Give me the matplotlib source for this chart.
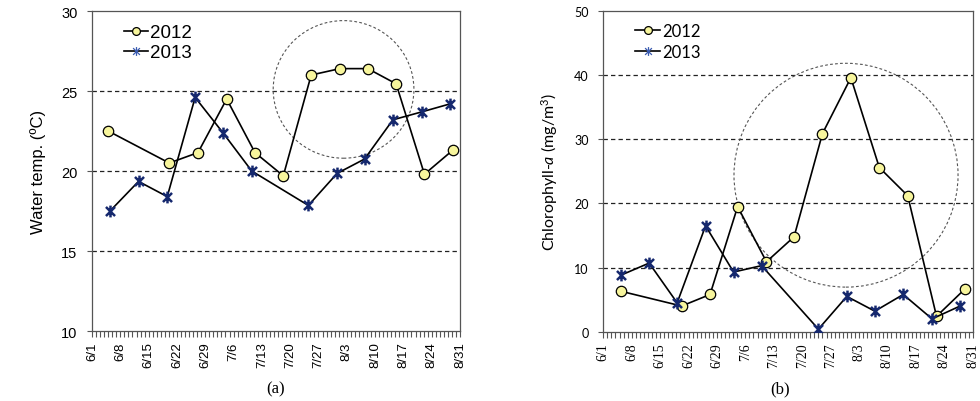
import numpy as np
import matplotlib
matplotlib.use('Agg')
import matplotlib.pyplot as plt
from matplotlib.patches import Ellipse
from matplotlib.path import Path
from matplotlib.ticker import MultipleLocator

# days counted from 6/1 (6/1 = 0, 8/31 = 91)
tick_labels = ['6/1', '6/8', '6/15', '6/22', '6/29', '7/6', '7/13', '7/20',
               '7/27', '8/3', '8/10', '8/17', '8/24', '8/31']

# (a) water temperature
days_a_2012 = [4.0, 19.1, 26.2, 33.3, 40.3, 47.3, 54.2, 61.3, 68.2, 75.2, 82.2, 89.2]
temp_2012 = [22.5, 20.5, 21.15, 24.5, 21.15, 19.7, 26.0, 26.4, 26.4, 25.45, 19.8, 21.3]
days_a_2013 = [4.45, 11.5, 18.6, 25.5, 32.5, 39.5, 53.5, 60.6, 67.4, 74.4, 81.6, 88.6]
temp_2013 = [17.5, 19.35, 18.4, 24.6, 22.35, 20.0, 17.85, 19.85, 20.75, 23.2, 23.7, 24.2]

# (b) chlorophyll-a
days_b_2012 = [4.4, 19.3, 26.3, 33.1, 40.2, 47.0, 54.0, 61.0, 68.0, 75.0, 82.1, 89.0]
chl_2012 = [6.3, 4.0, 5.8, 19.5, 10.9, 14.8, 30.9, 39.6, 25.6, 21.2, 2.4, 6.6]
days_b_2013 = [4.3, 11.3, 18.2, 25.2, 32.1, 39.0, 53.0, 60.0, 66.9, 73.9, 81.0, 87.9]
chl_2013 = [8.8, 10.7, 4.5, 16.5, 9.3, 10.3, 0.4, 5.5, 3.2, 5.8, 2.0, 4.0]

# excel-like star marker: X plus a vertical bar
star = Path([(-1, -1), (1, 1), (-1, 1), (1, -1), (0, -1.3), (0, 1.3)],
            [Path.MOVETO, Path.LINETO, Path.MOVETO, Path.LINETO, Path.MOVETO, Path.LINETO])

yellow = '#F7F59C'
navy = '#15286E'

plt.rcParams['mathtext.fontset'] = 'custom'
plt.rcParams['mathtext.rm'] = 'Lato'
plt.rcParams['mathtext.it'] = 'Lato:italic'

fig = plt.figure(figsize=(9.8, 4.02), dpi=100)
ax1 = fig.add_axes([0.0939, 0.1741, 0.3755, 0.796])
ax2 = fig.add_axes([0.6156, 0.1724, 0.3769, 0.7977])


def style_axis(ax, ymin, ymax, ystep, grid_vals, xfont, yfont, xsize, ysize):
    ax.set_xlim(0, 91)
    ax.set_ylim(ymin, ymax)
    ax.xaxis.set_minor_locator(MultipleLocator(1))
    ax.set_xticks(np.arange(0, 92, 7))
    ax.set_xticklabels(tick_labels, rotation=90, fontsize=xsize, family=xfont)
    ax.set_yticks(np.arange(ymin, ymax + 0.1, ystep))
    for lab in ax.get_yticklabels():
        lab.set_family(yfont)
        lab.set_fontsize(ysize)
    ax.tick_params(axis='x', which='both', direction='out', length=4.5, width=0.8,
                   color='#555555', pad=3)
    ax.tick_params(axis='y', direction='out', length=3.5, width=0.8,
                   color='#555555', pad=7)
    for s in ax.spines.values():
        s.set_color('#555555')
        s.set_linewidth(0.9)
    for g in grid_vals:
        ax.axhline(g, color='#222222', linestyle=(0, (3.5, 2.5)), linewidth=0.9, zorder=1)


def soften_legend(leg):
    h = leg.legend_handles[1]
    h.set_markeredgecolor('#3A5BB0')
    h.set_markeredgewidth(0.9)


# ---- panel (a)
style_axis(ax1, 10, 30, 5, [15, 20, 25], 'Liberation Sans', 'Liberation Sans', 9.5, 10.5)
ax1.plot(days_a_2012, temp_2012, color='black', lw=1.2, marker='o', ms=7.5,
         mfc=yellow, mec='black', mew=0.9, label='2012', zorder=3)
ax1.plot(days_a_2013, temp_2013, color='black', lw=1.2, marker=star, ms=8.5,
         mfc='none', mec=navy, mew=1.8, label='2013', zorder=4)
ax1.add_patch(Ellipse((62.2, 25.1), 34.8, 8.6, fill=False, edgecolor='#555555',
                      linestyle=(0, (2.5, 2)), linewidth=0.8, zorder=2))
ax1.set_ylabel('Water temp. (ºC)', family='Liberation Sans', fontsize=12, labelpad=11)
leg1 = ax1.legend(loc='upper left', bbox_to_anchor=(0.05, 1.0), frameon=False,
                  prop={'family': 'Liberation Sans', 'size': 13.5}, handlelength=1.3,
                  handletextpad=0.1, labelspacing=0.15, borderpad=0.2, markerscale=0.75)
soften_legend(leg1)
fig.text(276 / 980, 1 - 389 / 402, '(a)', ha='center', va='center',
         family='Liberation Serif', fontsize=12)

# ---- panel (b)
style_axis(ax2, 0, 50, 10, [10, 20, 30, 40], 'Liberation Serif', 'Lato', 10, 9)
ax2.plot(days_b_2012, chl_2012, color='black', lw=1.2, marker='o', ms=7.5,
         mfc=yellow, mec='black', mew=0.9, label='2012', zorder=3)
ax2.plot(days_b_2013, chl_2013, color='black', lw=1.2, marker=star, ms=8.5,
         mfc='none', mec=navy, mew=1.8, label='2013', zorder=4)
ax2.add_patch(Ellipse((59.8, 24.4), 55.2, 34.9, fill=False, edgecolor='#555555',
                      linestyle=(0, (2.5, 2)), linewidth=0.8, zorder=2))
ax2.set_ylabel(r'Chlorophyll-$\mathit{a}$ (mg/m$^{3}$)', family='Lato', fontsize=11.5,
               labelpad=10)
leg2 = ax2.legend(loc='upper left', bbox_to_anchor=(0.055, 1.0), frameon=False,
                  prop={'family': 'Lato', 'size': 12}, handlelength=1.5,
                  handletextpad=0.1, labelspacing=0.3, borderpad=0.2, markerscale=0.75)
soften_legend(leg2)
fig.text(780 / 980, 1 - 389 / 402, '(b)', ha='center', va='center',
         family='Liberation Serif', fontsize=12)

fig.savefig('out.png', dpi=100)
